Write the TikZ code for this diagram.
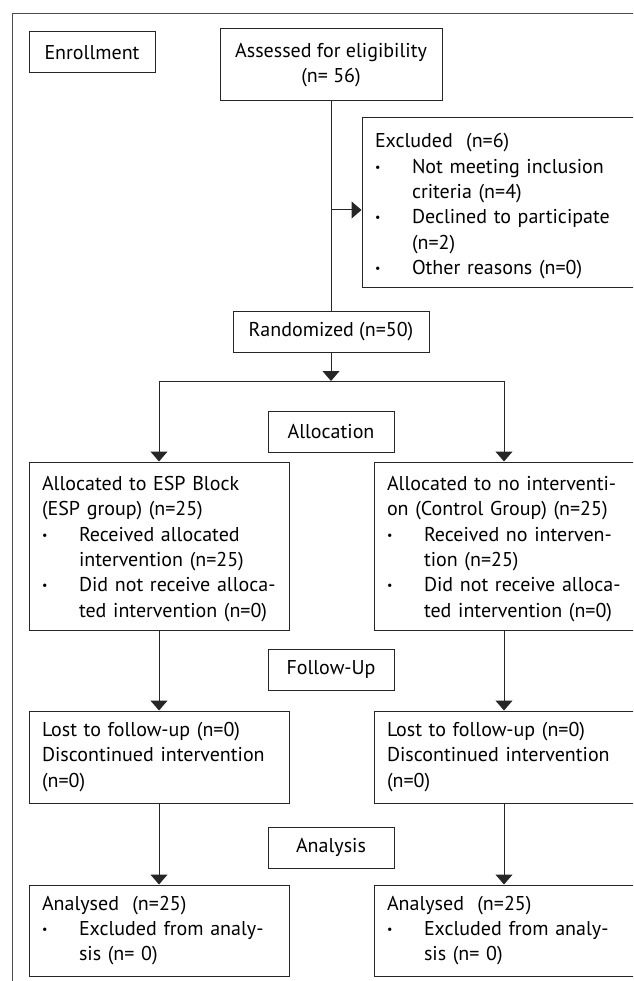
\documentclass[tikz,border=0pt]{standalone}
\usepackage{fontspec}
\setmainfont{PT Sans}
\usetikzlibrary{arrows.meta}

\newcommand{\bitem}{\makebox[37pt][l]{\raisebox{2pt}{\fontsize{12}{12}\selectfont\textbullet}}}
\newcommand{\bcont}{\hspace*{37pt}}

\begin{document}
\begin{tikzpicture}[x=1pt, y=-1pt,
    every node/.style={font=\fontsize{20}{25.4}\selectfont},
    box/.style={draw=black!85, line width=1pt, inner xsep=13pt, inner ysep=0pt},
    textbox/.style={box, text width=234pt, align=left},
    stagebox/.style={box, minimum width=126pt, minimum height=41pt},
    arr/.style={draw=black!85, line width=1pt, -{Triangle[length=10pt,width=17pt]}},
    conn/.style={draw=black!85, line width=1pt}]
    \useasboundingbox (0,0) rectangle (633,981);
    \clip (0,0) rectangle (633,981);

    % Outer frame
    \draw[conn, draw=black!70] (12,14) rectangle (660,1000);

    % Enrollment
    \node[stagebox] (enroll) at (92,52.5) {Enrollment};
    \node[box, align=center, minimum width=222pt, minimum height=72pt] (assess) at (331,65) {Assessed for eligibility\\(n= 56)};

    % Excluded
    \node[textbox, text width=254pt, minimum height=169pt] (excl) at (502,202.5) {\rule{0pt}{22pt}Excluded~~(n=6)\\
        \bitem Not meeting inclusion\\ \bcont criteria (n=4)\\
        \bitem Declined to participate\\ \bcont (n=2)\\
        \bitem Other reasons (n=0)};

    % Randomized
    \node[box, minimum width=196pt, minimum height=41pt] (rand) at (331,331.5) {Randomized (n=50)};
    \coordinate (split) at (331,210);
    \coordinate (fork) at (331,381);

    % Allocation
    \node[stagebox] (alloc) at (331,431.5) {Allocation};
    \node[textbox, minimum height=168pt] (espgrp) at (159,546) {\rule{0pt}{20pt}Allocated to ESP Block\\(ESP group) (n=25)\\
        \bitem Received allocated\\ \bcont intervention (n=25)\\
        \bitem Did not receive alloca-\\ \bcont ted intervention (n=0)};
    \node[textbox, minimum height=168pt] (ctrlgrp) at (504,546) {\rule{0pt}{20pt}Allocated to no interventi-\\on (Control Group) (n=25)\\
        \bitem Received no interven-\\ \bcont tion (n=25)\\
        \bitem Did not receive alloca-\\ \bcont ted intervention (n=0)};

    % Follow-Up
    \node[stagebox] (follow) at (331,669.5) {Follow-Up};
    \node[textbox, minimum height=92pt] (lostesp) at (159,757) {Lost to follow-up (n=0)\\Discontinued intervention\\(n=0)};
    \node[textbox, minimum height=92pt] (lostctrl) at (504,757) {Lost to follow-up (n=0)\\Discontinued intervention\\(n=0)};

    % Analysis
    \node[stagebox] (analysis) at (331,847.5) {Analysis};
    \node[textbox, minimum height=91pt] (anaesp) at (159,930.5) {Analysed~~(n=25)\\
        \bitem Excluded from analy-\\ \bcont sis (n=~0)};
    \node[textbox, minimum height=91pt] (anactrl) at (504,930.5) {Analysed~~(n=25)\\
        \bitem Excluded from analy-\\ \bcont sis (n=~0)};

    % Arrows
    \draw[conn] (assess) -- (rand);
    \draw[arr] (split) -- (split -| excl.west);
    \draw[arr] (rand) -- (fork);
    \draw[arr] (fork) -| (espgrp);
    \draw[arr] (fork) -| (ctrlgrp);
    \draw[arr] (espgrp) -- (lostesp);
    \draw[arr] (ctrlgrp) -- (lostctrl);
    \draw[arr] (lostesp) -- (anaesp);
    \draw[arr] (lostctrl) -- (anactrl);
\end{tikzpicture}
\end{document}
